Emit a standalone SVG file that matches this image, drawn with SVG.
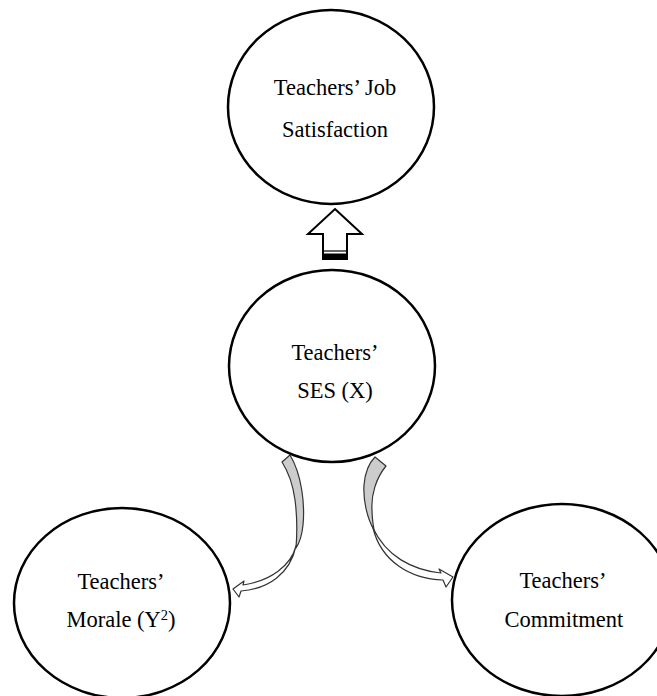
<svg xmlns="http://www.w3.org/2000/svg" width="657" height="696" viewBox="0 0 657 696">
  <style>
    .node { fill: #ffffff; stroke: #000000; stroke-width: 2.5; }
    .label { font-family: 'Liberation Serif', 'DejaVu Serif', serif; font-size: 22.5px; fill: #000000; text-anchor: middle; }
    .band-front { fill: #cccccc; stroke: #333333; stroke-width: 1.2; stroke-linejoin: round; }
    .band-back { fill: #ffffff; stroke: #333333; stroke-width: 1.2; stroke-linejoin: round; }
    .block { fill: #ffffff; stroke: #000000; stroke-width: 2; stroke-linejoin: miter; }
  </style>
  <rect width="657" height="696" fill="#ffffff"/>

  <g id="connectors">
    <!-- block arrow from SES up to job satisfaction -->
    <g id="arrow-up">
      <path class="block" d="M335,209 L362,234 L347,234 L347,259 L323,259 L323,234 L308,234 Z"/>
      <line x1="323" y1="251" x2="347" y2="251" stroke="#000000" stroke-width="1.2"/>
      <rect x="323" y="253.5" width="24" height="5.5" fill="#000000"/>
    </g>
    <!-- curved arrow to morale -->
    <g id="arrow-morale">
      <path class="band-front" d="M282,462 L290,455 C302,475 305,505 303,525 C302,535 300,542 296,548 C297,535 297,515 295,500 C293,485 289,473 282,462 Z"/>
      <path class="band-back" d="M296,546 C291,566 270,581 243,585 L244,581 L233,589 L239,597 L241,591 C268,589 290,574 296,546 Z"/>
    </g>
    <!-- curved arrow to commitment -->
    <g id="arrow-commitment">
      <path class="band-front" d="M375,457 L386,466 C376,478 371,495 372,510 C372,518 373,524 374,530 C367,518 363,500 364,485 C365,473 369,463 375,457 Z"/>
      <path class="band-back" d="M373,528 C386,556 412,570 441,573 L439,569 L453,577 L446,587 L443,580 C410,579 381,561 373,528 Z"/>
    </g>
  </g>

  <g id="node-job-satisfaction">
    <ellipse class="node" cx="331" cy="107" rx="103" ry="97"/>
    <text class="label" x="335" y="95">Teachers’ Job</text>
    <text class="label" x="335" y="137">Satisfaction</text>
  </g>

  <g id="node-ses">
    <ellipse class="node" cx="332" cy="366" rx="103" ry="96"/>
    <text class="label" x="335" y="360">Teachers’</text>
    <text class="label" x="335" y="398">SES (X)</text>
  </g>

  <g id="node-morale">
    <ellipse class="node" cx="122" cy="603" rx="108" ry="95"/>
    <text class="label" x="121" y="589">Teachers’</text>
    <text class="label" x="121" y="627">Morale (Y<tspan font-size="14.5" dy="-7">2</tspan><tspan dy="7">)</tspan></text>
  </g>

  <g id="node-commitment">
    <ellipse class="node" cx="562" cy="600" rx="110" ry="96"/>
    <text class="label" x="563" y="588">Teachers’</text>
    <text class="label" x="564" y="627">Commitment</text>
  </g>
</svg>
